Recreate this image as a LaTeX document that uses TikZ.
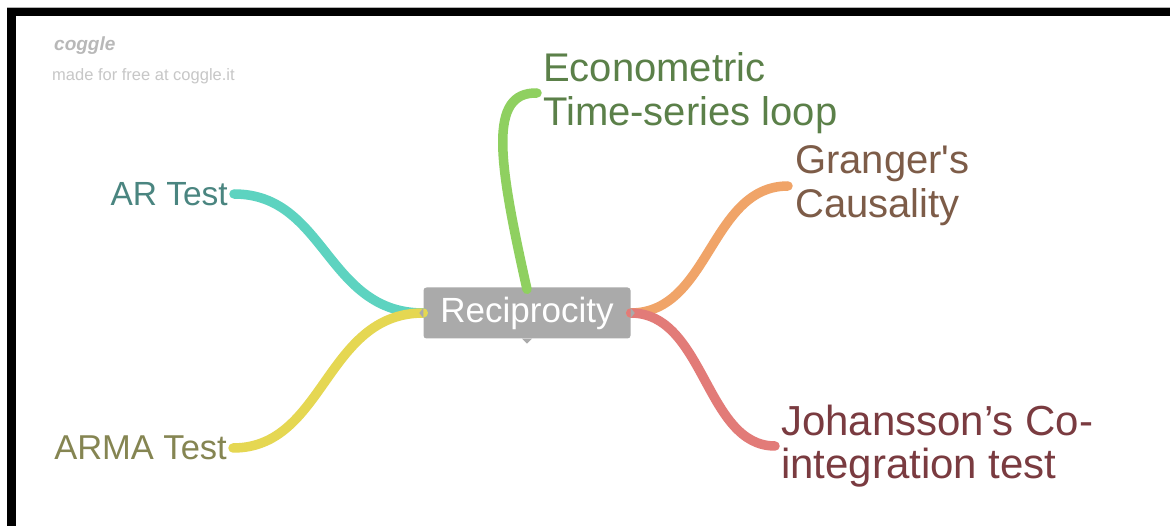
\documentclass[tikz,border=0pt]{standalone}
\usepackage{fontspec}
\setmainfont{Liberation Sans}
\newfontfamily\plainsans{Liberation Sans}
\usepackage{xcolor}
\usepackage{tikz}
\usetikzlibrary{positioning}

\definecolor{tealline}{HTML}{5DD3C0}
\definecolor{tealtext}{HTML}{4A8580}
\definecolor{yelline}{HTML}{E5D752}
\definecolor{yeltext}{HTML}{858552}
\definecolor{greenline}{HTML}{8FD060}
\definecolor{greentext}{HTML}{5B8049}
\definecolor{orangeline}{HTML}{F0A468}
\definecolor{orangetext}{HTML}{7D5C48}
\definecolor{redline}{HTML}{E27B78}
\definecolor{redtext}{HTML}{7A3B40}
\definecolor{boxgray}{HTML}{AAAAAA}

\tikzset{
  branch/.style={line width=9.5pt,line cap=round},
  leaf/.style={inner sep=0pt,align=left,font=\fontsize{40}{44}\selectfont},
  smallleaf/.style={inner sep=0pt,font=\fontsize{33.5}{38}\selectfont},
  nub/.style={fill=boxgray,draw=none}
}

\begin{document}
\begin{tikzpicture}[x=1pt,y=-1pt]
    \useasboundingbox (0,0) rectangle (1170,526);
    \fill[white] (0,0) rectangle (1170,526);
    % frame
    \fill[black] (7,8) rectangle (1170,16);
    \fill[black] (7,8) rectangle (16,526);
    \draw[gray!60,line width=0.8pt] (7,7.5) -- (1170,7.5);
    % watermark
    \node[anchor=west,inner sep=0pt,text=black!28,font=\fontsize{19}{21}\selectfont\itshape\bfseries] (logo) at (54,46) {coggle};
    \node[anchor=west,inner sep=0pt,text=black!22,font=\fontsize{16.5}{18}\selectfont] (made) at (52,76) {made for free at coggle.it};

    % central node
    \node[fill=boxgray,rounded corners=3pt,minimum width=207pt,minimum height=51pt,
      text=white,font=\fontsize{35}{40}\selectfont] (recip) at (527,313) {Reciprocity};

    % leaves
    \node[smallleaf,anchor=east,text=tealtext] (ar) at (228,194) {AR Test};
    \node[smallleaf,anchor=east,text=yeltext,font=\fontsize{34.5}{38}\selectfont] (arma) at (227,448) {ARMA Test};
    \node[leaf,anchor=west,text=greentext] (econ) at (543,93) {Econometric\\Time-series loop};
    \node[leaf,anchor=west,text=orangetext,font=\fontsize{40}{44}\selectfont\plainsans] (granger) at (795,186) {Granger's\\Causality};
    \node[leaf,anchor=west,text=redtext,font=\fontsize{42}{43}\selectfont] (johan) at (781,446) {Johansson’s Co-\\integration test};

    % branches
    \draw[branch,tealline] (recip.west) .. controls (326,313) and (326,194) .. ([xshift=6pt]ar.east);
    \draw[branch,yelline] (recip.west) .. controls (325,313) and (325,448) .. ([xshift=6pt]arma.east);
    \draw[branch,greenline] ([yshift=-2pt]recip.north) .. controls (498,160) and (488,92) .. ([xshift=-6pt]econ.west);
    \draw[branch,orangeline] (recip.east) .. controls (710,313) and (710,186) .. ([xshift=-7pt]granger.west);
    \draw[branch,redline] (recip.east) .. controls (705,313) and (705,446) .. ([xshift=-6pt]johan.west);

    % little handles on the box
    \fill[nub] ([xshift=-5pt]recip.south) -- ([yshift=-5pt]recip.south) -- ([xshift=5pt]recip.south) -- cycle;
    \fill[nub] ([yshift=-5pt]recip.west) -- ([xshift=-4pt]recip.west) -- ([yshift=5pt]recip.west) -- cycle;
    \fill[nub] ([yshift=-5pt]recip.east) -- ([xshift=4pt]recip.east) -- ([yshift=5pt]recip.east) -- cycle;
\end{tikzpicture}
\end{document}
